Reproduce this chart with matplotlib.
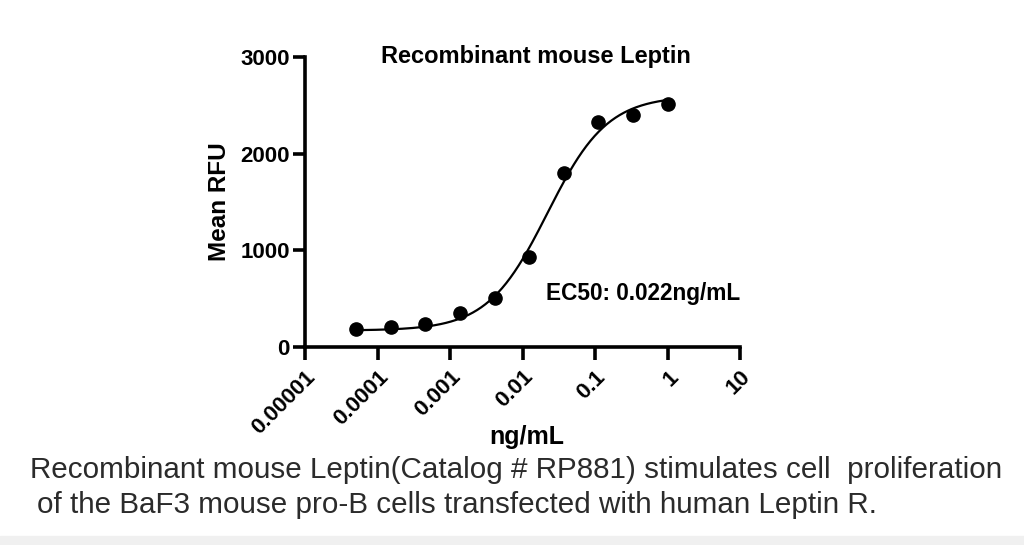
import matplotlib

matplotlib.use("Agg")
import matplotlib.pyplot as plt
import numpy as np
from matplotlib.patches import Rectangle

# concentrations (ng/mL), 3-fold dilution series
conc = [0.0000508, 0.000152, 0.000457, 0.00137, 0.0041, 0.0123, 0.037, 0.111, 0.333, 1.0]
rfu = [182, 206, 234, 354, 509, 928, 1797, 2323, 2405, 2519]

# 4PL fit parameters (EC50 as stated on the chart)
fit_bottom = 170
fit_top = 2600
fit_ec50 = 0.022
fit_hill = 1.05

x_ticks = [0.00001, 0.0001, 0.001, 0.01, 0.1, 1, 10]
x_labels = ["0.00001", "0.0001", "0.001", "0.01", "0.1", "1", "10"]
y_ticks = [0, 1000, 2000, 3000]

bold = dict(family="Liberation Sans", fontweight="bold")

fig = plt.figure(figsize=(10.24, 5.45), dpi=100)
ax = fig.add_axes([0.298, 0.3633, 0.4247, 0.532])

xs = np.logspace(np.log10(conc[0]), np.log10(conc[-1]), 300)
ys = fit_bottom + (fit_top - fit_bottom) / (1 + (fit_ec50 / xs) ** fit_hill)
ax.plot(xs, ys, color="black", lw=1.6)
ax.plot(conc, rfu, "o", color="black", ms=9.5, clip_on=False)

ax.set_xscale("log")
ax.set_xlim(1e-5, 10)
ax.set_ylim(0, 3000)
ax.set_xticks(x_ticks)
ax.set_xticklabels(x_labels, rotation=45, ha="right", va="top", rotation_mode="anchor", fontsize=16, **bold)
ax.minorticks_off()
ax.set_yticks(y_ticks)
ax.set_yticklabels([str(v) for v in y_ticks], fontsize=16, **bold)
for s in ["top", "right"]:
    ax.spines[s].set_visible(False)
for s in ["left", "bottom"]:
    ax.spines[s].set_linewidth(2.6)
ax.tick_params(width=2.6, length=9, pad=2)
ax.tick_params(axis="x", pad=5)

ax.set_ylabel("Mean RFU", fontsize=17.5, **bold)
ax.yaxis.set_label_coords(-0.17, 0.5)
ax.set_xlabel("ng/mL", fontsize=18, **bold)
ax.xaxis.set_label_coords(0.51, -0.27)

fig.text(0.523, 0.896, "Recombinant mouse Leptin", ha="center", va="center", fontsize=17, **bold)
ax.text(0.777, 0.186, "EC50: 0.022ng/mL", transform=ax.transAxes, ha="center", va="center", fontsize=16.3, **bold)

cap = dict(family="Liberation Sans", fontsize=21.3, color="#2b2b2b")
fig.text(0.029, 0.138, "Recombinant mouse Leptin(Catalog # RP881) stimulates cell  proliferation", ha="left", va="center", **cap)
fig.text(0.036, 0.073, "of the BaF3 mouse pro-B cells transfected with human Leptin R.", ha="left", va="center", **cap)

fig.patches.append(Rectangle((0, 0), 1, 0.016, transform=fig.transFigure, color="#f0f0f0", zorder=0))

fig.savefig("out.png", dpi=100)
